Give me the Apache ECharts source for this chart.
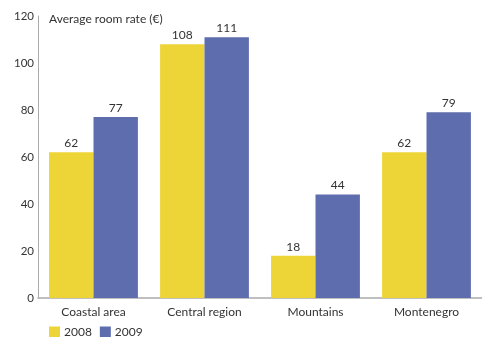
<!DOCTYPE html>
<html><head><meta charset="utf-8">
<script src="https://cdn.jsdelivr.net/npm/echarts@6/dist/echarts.min.js"></script>
<style>html,body{margin:0;padding:0;background:#fff}#c{width:482px;height:337px}</style>
</head><body><div id="c"></div>
<script>
var categories = ['Coastal area', 'Central region', 'Mountains', 'Montenegro'];
var values2008 = [62, 108, 18, 62];
var values2009 = [77, 111, 44, 79];
var yTicks = [0, 20, 40, 60, 80, 100, 120];
var FONT = 'Lato';
var chart = echarts.init(document.getElementById('c'));
chart.setOption({
  animation: false,
  textStyle: {fontFamily: FONT},
  title: {text: 'Average room rate (€)', left: 44, top: 8, textStyle: {fontFamily: FONT, fontSize: 12, fontWeight: 'normal', color: '#333'}},
  legend: {
    left: 44, bottom: -6, itemWidth: 11, itemHeight: 11, itemGap: 8,
    icon: 'rect',
    textStyle: {fontFamily: FONT, fontSize: 12, color: '#333', padding: [0,0,0,-1]},
    data: ['2008', '2009']
  },
  grid: {left: 38, right: 0, top: 16, bottom: 39, containLabel: false},
  xAxis: {
    type: 'category', data: categories,
    axisLine: {lineStyle: {color: '#aaa', width: 1.5}},
    axisTick: {show: false},
    axisLabel: {fontFamily: FONT, fontSize: 12, color: '#333', margin: 8}
  },
  yAxis: {
    type: 'value', min: 0, max: 120, interval: 20,
    axisLine: {show: true, lineStyle: {color: '#aaa', width: 1}},
    axisTick: {show: false},
    splitLine: {show: false},
    axisLabel: {fontFamily: FONT, fontSize: 11.5, color: '#333', margin: 4,
      formatter: function(v){ return yTicks.indexOf(v) >= 0 ? String(v) : ''; }}
  },
  series: [
    {name: '2008', type: 'bar', data: values2008, barGap: '0%', barCategoryGap: '20%',
     itemStyle: {color: '#EDD437'},
     label: {show: true, position: 'top', fontFamily: FONT, fontSize: 12, color: '#333', distance: 3}},
    {name: '2009', type: 'bar', data: values2009,
     itemStyle: {color: '#5E6DAE'},
     label: {show: true, position: 'top', fontFamily: FONT, fontSize: 12, color: '#333', distance: 3}}
  ]
});
</script></body></html>
